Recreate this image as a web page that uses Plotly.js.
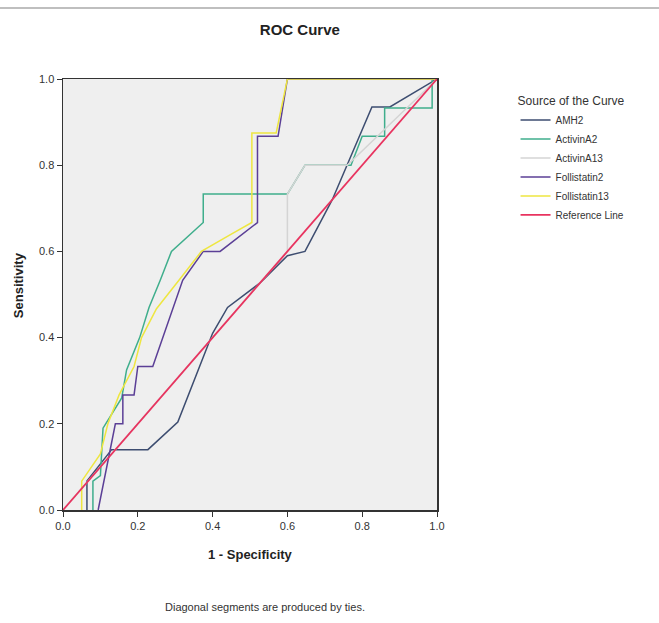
<!DOCTYPE html>
<html>
<head>
<meta charset="utf-8">
<script src="https://cdn.plot.ly/plotly-3.0.1.min.js"></script>
<style>html,body{margin:0;padding:0;background:#fff;}#chart{width:659px;height:623px;}</style>
</head>
<body>
<div id="chart"></div>
<script>
// Curve names (legend)
const seriesNames = ["AMH2", "ActivinA2", "ActivinA13", "Follistatin2", "Follistatin13", "Reference Line"];

// 1 - Specificity (x) and Sensitivity (y) for each curve
const amh2X = [0.064, 0.064, 0.13, 0.227, 0.307, 0.40, 0.44, 0.527, 0.60, 0.647, 0.72, 0.826, 0.874, 1.0];
const amh2Y = [0, 0.067, 0.14, 0.14, 0.204, 0.41, 0.47, 0.527, 0.59, 0.60, 0.72, 0.935, 0.935, 1.0];

const activinA2X = [0.08, 0.08, 0.10, 0.107, 0.157, 0.17, 0.205, 0.23, 0.26, 0.29, 0.375, 0.375, 0.60, 0.647, 0.77, 0.80, 0.86, 0.86, 0.987, 0.987, 1.0];
const activinA2Y = [0, 0.067, 0.08, 0.19, 0.26, 0.325, 0.40, 0.47, 0.533, 0.60, 0.667, 0.733, 0.733, 0.80, 0.80, 0.867, 0.867, 0.933, 0.933, 1.0, 1.0];

const activinA13X = [0, 0.60, 0.60, 0.647, 0.76, 1.0];
const activinA13Y = [0, 0.60, 0.733, 0.80, 0.80, 1.0];

const follistatin2X = [0.094, 0.125, 0.14, 0.16, 0.16, 0.19, 0.20, 0.24, 0.32, 0.375, 0.42, 0.52, 0.52, 0.575, 0.60, 1.0];
const follistatin2Y = [0, 0.133, 0.20, 0.20, 0.267, 0.267, 0.333, 0.333, 0.533, 0.60, 0.60, 0.667, 0.867, 0.867, 1.0, 1.0];

const follistatin13X = [0.05, 0.05, 0.10, 0.12, 0.15, 0.19, 0.21, 0.25, 0.31, 0.37, 0.45, 0.505, 0.505, 0.57, 0.60, 1.0];
const follistatin13Y = [0, 0.067, 0.13, 0.20, 0.267, 0.333, 0.40, 0.467, 0.533, 0.60, 0.64, 0.667, 0.875, 0.875, 1.0, 1.0];

const referenceX = [0, 1];
const referenceY = [0, 1];

const xTickVals = [0, 0.2, 0.4, 0.6, 0.8, 1.0];
const xTickText = ["0.0", "0.2", "0.4", "0.6", "0.8", "1.0"];
const yTickVals = [0, 0.2, 0.4, 0.6, 0.8, 1.0];
const yTickText = ["0.0", "0.2", "0.4", "0.6", "0.8", "1.0"];

const colors = ["#3d4d70", "#3fae8c", "#d4d4d4", "#5b3f96", "#eee640", "#e8335f"];
const xs = [amh2X, activinA2X, activinA13X, follistatin2X, follistatin13X, referenceX];
const ys = [amh2Y, activinA2Y, activinA13Y, follistatin2Y, follistatin13Y, referenceY];

const traces = seriesNames.map((name, i) => ({
  type: "scatter", mode: "lines", name: name,
  x: xs[i], y: ys[i],
  line: {color: colors[i], width: i === 5 ? 1.8 : 1.5}
}));

const font = "Arial, 'Liberation Sans', sans-serif";
const layout = {
  width: 659, height: 623,
  margin: {l: 63, r: 222, t: 79, b: 113},
  paper_bgcolor: "#ffffff",
  plot_bgcolor: "#efefef",
  font: {family: font, size: 11, color: "#333"},
  title: {text: "<b>ROC Curve</b>", x: 0.455, xanchor: "center", y: 0.952, yanchor: "middle",
          font: {family: font, size: 15, color: "#222"}},
  xaxis: {range: [0, 1], tickvals: xTickVals, ticktext: xTickText, ticks: "outside", ticklen: 5,
          tickcolor: "#333", showline: true, linecolor: "#333", linewidth: 1.5, mirror: true,
          showgrid: false, zeroline: false, tickfont: {size: 11, color: "#333"}, fixedrange: true},
  yaxis: {range: [0, 1], tickvals: yTickVals, ticktext: yTickText, ticks: "outside", ticklen: 5,
          tickcolor: "#333", showline: true, linecolor: "#333", linewidth: 1.5, mirror: true,
          showgrid: false, zeroline: false, tickfont: {size: 11, color: "#333"}, fixedrange: true},
  showlegend: true,
  legend: {x: 1.21, xanchor: "left", y: 0.975, yanchor: "top", bgcolor: "rgba(0,0,0,0)",
           title: {text: "Source of the Curve", font: {size: 12, color: "#333"}},
           font: {size: 10, color: "#333"}, tracegroupgap: 0, itemwidth: 30,
           traceorder: "normal"},
  annotations: [
    {text: "<b>1 - Specificity</b>", xref: "paper", yref: "paper", x: 0.5, y: -0.104,
     xanchor: "center", yanchor: "middle", showarrow: false, font: {size: 13, color: "#222"}},
    {text: "<b>Sensitivity</b>", xref: "paper", yref: "paper", x: -0.12, y: 0.522,
     xanchor: "center", yanchor: "middle", textangle: -90, showarrow: false, font: {size: 13, color: "#222"}},
    {text: "Diagonal segments are produced by ties.", xref: "paper", yref: "paper", x: 0.54, y: -0.225,
     xanchor: "center", yanchor: "middle", showarrow: false, font: {size: 11, color: "#333"}}
  ],
  shapes: [
    {type: "line", xref: "paper", yref: "paper", x0: -0.17, x1: 1.6, y0: 1.165, y1: 1.165,
     line: {color: "#aaaaaa", width: 1.5}}
  ]
};

Plotly.newPlot("chart", traces, layout, {displayModeBar: false, staticPlot: true});
</script>
</body>
</html>
